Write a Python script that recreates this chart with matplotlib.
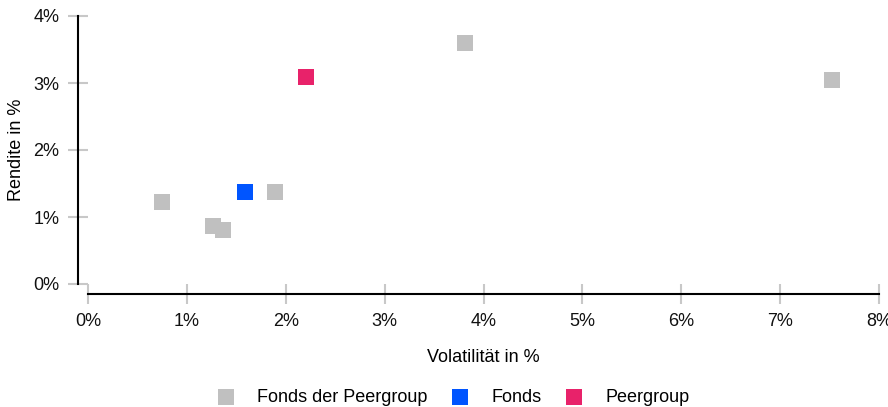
import numpy as np
import matplotlib.pyplot as plt

# Data (volatility %, return %) ..............................................

peer_funds_vol = [0.75, 1.26, 1.37, 1.89, 3.81, 7.52]
peer_funds_ret = [1.22, 0.86, 0.80, 1.37, 3.59, 3.04]

fund_vol = [1.59]
fund_ret = [1.37]

peergroup_vol = [2.20]
peergroup_ret = [3.085]

x_ticks = [0, 1, 2, 3, 4, 5, 6, 7, 8]
y_ticks = [0, 1, 2, 3, 4]

# Plot .......................................................................

plt.rcParams['font.family'] = ['Liberation Sans', 'DejaVu Sans']
plt.rcParams['font.size'] = 13

fig = plt.figure(figsize = (8.88, 4.07), dpi = 100)
ax = fig.add_axes([88/888, 1 - 284/407, 791/888, 268/407])

ms = 144
ax.scatter(peer_funds_vol, peer_funds_ret, s = ms, marker = 's', color = '#c0c0c0',
           linewidths = 0, label = "Fonds der Peergroup", zorder = 3)
ax.scatter(fund_vol, fund_ret, s = ms, marker = 's', color = '#0055ff',
           linewidths = 0, label = "Fonds", zorder = 4)
ax.scatter(peergroup_vol, peergroup_ret, s = ms, marker = 's', color = '#e8226a',
           linewidths = 0, label = "Peergroup", zorder = 4)

ax.set_xlim(0, 8)
ax.set_ylim(0, 4)
ax.set_xticks(x_ticks)
ax.set_yticks(y_ticks)
ax.set_xticklabels([f"{t}%" for t in x_ticks])
ax.set_yticklabels([f"{t}%" for t in y_ticks])

for side in ['top', 'right']:
    ax.spines[side].set_visible(False)
for side in ['left', 'bottom']:
    ax.spines[side].set_position(('outward', 7.2))
    ax.spines[side].set_linewidth(1.5)
    ax.spines[side].set_color('black')
ax.spines['left'].set_bounds(0, 4)
ax.spines['bottom'].set_bounds(0, 8)

ax.tick_params(direction = 'inout', length = 15, width = 1.5, color = '#c8c8c8',
               labelcolor = '#111111')
ax.tick_params(axis = 'x', pad = 6)
ax.tick_params(axis = 'y', pad = 6)

ax.set_xlabel("Volatilität in %", va = 'top')
ax.xaxis.set_label_coords(0.5, -0.243)
ax.set_ylabel("Rendite in %")
ax.yaxis.set_label_coords(-0.08, 0.5)

fig.legend(loc = 'center', bbox_to_anchor = (453/888, 1 - 397/407), ncol = 3,
           frameon = False, handlelength = 1.0, handletextpad = 1.25,
           columnspacing = 1.28, fontsize = 13)

plt.savefig("out.png", dpi = 100)
